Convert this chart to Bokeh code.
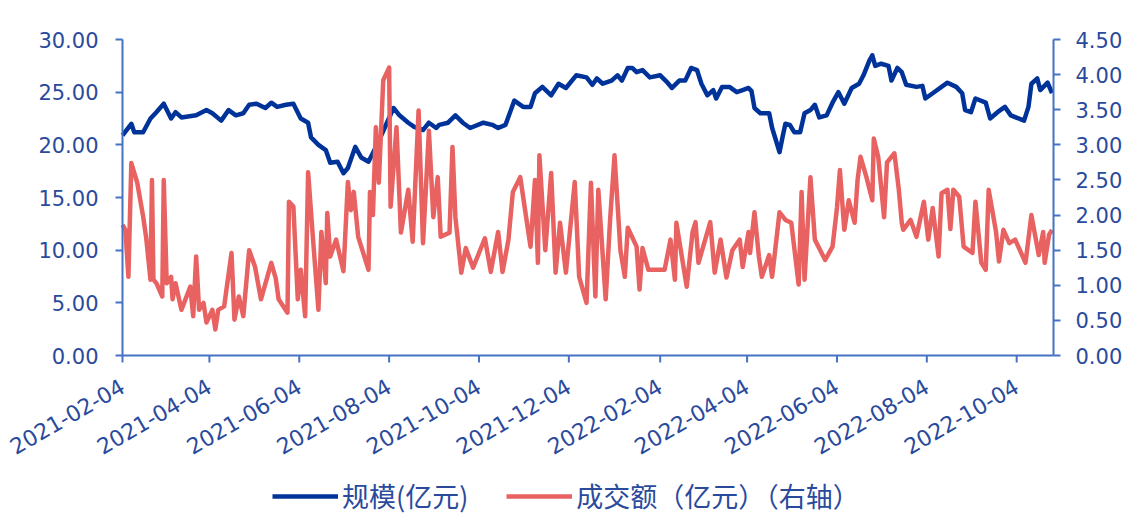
import pandas as pd
from bokeh.plotting import figure
from bokeh.models import (Range1d, LinearAxis, DatetimeTickFormatter, NumeralTickFormatter,
                          FixedTicker, Legend, LegendItem, ColumnDataSource)
from bokeh.embed import file_html
from bokeh.resources import INLINE

# ---------------- data ----------------
scale_dates = [
    "2021-02-04", "2021-02-10", "2021-02-12", "2021-02-18", "2021-02-23", "2021-02-27", "2021-03-04",
    "2021-03-09", "2021-03-12", "2021-03-16", "2021-03-26", "2021-04-02", "2021-04-06", "2021-04-12",
    "2021-04-17", "2021-04-22", "2021-04-27", "2021-05-01", "2021-05-06", "2021-05-12", "2021-05-16",
    "2021-05-20", "2021-05-26", "2021-05-31", "2021-06-05", "2021-06-10", "2021-06-12", "2021-06-17",
    "2021-06-22", "2021-06-25", "2021-06-30", "2021-07-04", "2021-07-07", "2021-07-12", "2021-07-16",
    "2021-07-21", "2021-07-25", "2021-07-30", "2021-08-07", "2021-08-11", "2021-08-17", "2021-08-21",
    "2021-08-27", "2021-08-31", "2021-09-05", "2021-09-07", "2021-09-13", "2021-09-18", "2021-09-23",
    "2021-09-28", "2021-10-07", "2021-10-13", "2021-10-17", "2021-10-22", "2021-10-28", "2021-11-03",
    "2021-11-08", "2021-11-11", "2021-11-16", "2021-11-22", "2021-11-27", "2021-12-02", "2021-12-09",
    "2021-12-16", "2021-12-20", "2021-12-23", "2021-12-27", "2022-01-02", "2022-01-06", "2022-01-09",
    "2022-01-13", "2022-01-16", "2022-01-19", "2022-01-23", "2022-01-28", "2022-02-04", "2022-02-09",
    "2022-02-12", "2022-02-17", "2022-02-21", "2022-02-25", "2022-03-01", "2022-03-04", "2022-03-08",
    "2022-03-12", "2022-03-14", "2022-03-18", "2022-03-23", "2022-03-28", "2022-04-01", "2022-04-05",
    "2022-04-07", "2022-04-09", "2022-04-13", "2022-04-19", "2022-04-21", "2022-04-23", "2022-04-26",
    "2022-04-28", "2022-04-30", "2022-05-03", "2022-05-06", "2022-05-10", "2022-05-13", "2022-05-17",
    "2022-05-20", "2022-05-23", "2022-05-28", "2022-06-01", "2022-06-05", "2022-06-09", "2022-06-14",
    "2022-06-19", "2022-06-22", "2022-06-26", "2022-06-28", "2022-06-30", "2022-07-04", "2022-07-09",
    "2022-07-11", "2022-07-15", "2022-07-18", "2022-07-21", "2022-07-28", "2022-08-01", "2022-08-03",
    "2022-08-08", "2022-08-18", "2022-08-24", "2022-08-28", "2022-08-30", "2022-09-03", "2022-09-06",
    "2022-09-13", "2022-09-16", "2022-09-21", "2022-09-26", "2022-09-30", "2022-10-09", "2022-10-12",
    "2022-10-14", "2022-10-18", "2022-10-20", "2022-10-25", "2022-10-28",
]
scale_values = [
    20.9, 22.0, 21.2, 21.2, 22.5, 23.1, 23.9,
    22.5, 23.1, 22.6, 22.8, 23.3, 23.0, 22.3,
    23.3, 22.8, 23.0, 23.8, 23.9, 23.5, 24.0,
    23.6, 23.8, 23.9, 22.5, 22.1, 20.7, 20.0,
    19.5, 18.3, 18.4, 17.3, 17.8, 19.8, 18.8,
    18.4, 19.5, 21.0, 23.5, 22.8, 22.1, 21.7,
    21.4, 22.1, 21.6, 21.9, 22.1, 22.8, 22.1,
    21.6, 22.1, 21.9, 21.6, 21.9, 24.2, 23.6,
    23.6, 24.9, 25.5, 24.7, 25.8, 25.4, 26.6,
    26.4, 25.7, 26.3, 25.8, 26.1, 26.6, 26.1,
    27.3, 27.3, 26.9, 27.1, 26.4, 26.6, 25.9,
    25.4, 26.1, 26.1, 27.3, 27.1, 25.8, 24.7,
    25.2, 24.4, 25.5, 25.5, 25.0, 25.2, 25.4,
    25.1, 23.5, 23.0, 23.0, 21.6, 20.7, 19.3,
    20.7, 22.0, 21.9, 21.2, 21.2, 23.0, 23.3,
    23.8, 22.6, 22.8, 24.0, 25.0, 23.9, 25.4,
    25.8, 26.6, 28.0, 28.5, 27.5, 27.7, 27.5,
    26.1, 27.3, 26.9, 25.7, 25.5, 25.6, 24.4,
    24.9, 25.9, 25.5, 24.9, 23.3, 23.1, 24.4,
    24.0, 22.5, 23.1, 23.6, 22.8, 22.3, 23.6,
    25.8, 26.3, 25.2, 25.9, 24.9,
]

turnover_dates = [
    "2021-02-04", "2021-02-06", "2021-02-08", "2021-02-10", "2021-02-14", "2021-02-18", "2021-02-20",
    "2021-02-23", "2021-02-24", "2021-02-25", "2021-02-27", "2021-03-03", "2021-03-04", "2021-03-06",
    "2021-03-09", "2021-03-10", "2021-03-12", "2021-03-16", "2021-03-22", "2021-03-24", "2021-03-26",
    "2021-03-28", "2021-03-31", "2021-04-02", "2021-04-06", "2021-04-08", "2021-04-10", "2021-04-14",
    "2021-04-19", "2021-04-21", "2021-04-24", "2021-04-27", "2021-05-01", "2021-05-05", "2021-05-09",
    "2021-05-16", "2021-05-19", "2021-05-21", "2021-05-27", "2021-05-28", "2021-05-31", "2021-06-03",
    "2021-06-05", "2021-06-08", "2021-06-10", "2021-06-13", "2021-06-17", "2021-06-19", "2021-06-22",
    "2021-06-23", "2021-06-25", "2021-06-29", "2021-07-04", "2021-07-07", "2021-07-09", "2021-07-11",
    "2021-07-14", "2021-07-21", "2021-07-22", "2021-07-24", "2021-07-26", "2021-07-28", "2021-07-31",
    "2021-08-04", "2021-08-05", "2021-08-09", "2021-08-12", "2021-08-17", "2021-08-20", "2021-08-24",
    "2021-08-27", "2021-08-31", "2021-09-03", "2021-09-06", "2021-09-08", "2021-09-14", "2021-09-16",
    "2021-09-18", "2021-09-22", "2021-09-25", "2021-09-30", "2021-10-08", "2021-10-12", "2021-10-17",
    "2021-10-20", "2021-10-24", "2021-10-27", "2021-11-01", "2021-11-05", "2021-11-08", "2021-11-11",
    "2021-11-13", "2021-11-14", "2021-11-18", "2021-11-22", "2021-11-25", "2021-11-28", "2021-12-02",
    "2021-12-08", "2021-12-11", "2021-12-16", "2021-12-19", "2021-12-22", "2021-12-24", "2021-12-29",
    "2022-01-01", "2022-01-04", "2022-01-08", "2022-01-11", "2022-01-13", "2022-01-19", "2022-01-21",
    "2022-01-23", "2022-01-27", "2022-02-07", "2022-02-11", "2022-02-14", "2022-02-15", "2022-02-22",
    "2022-02-26", "2022-02-28", "2022-03-02", "2022-03-10", "2022-03-13", "2022-03-17", "2022-03-21",
    "2022-03-25", "2022-03-30", "2022-04-01", "2022-04-05", "2022-04-06", "2022-04-09", "2022-04-12",
    "2022-04-14", "2022-04-19", "2022-04-21", "2022-04-26", "2022-04-30", "2022-05-04", "2022-05-09",
    "2022-05-11", "2022-05-13", "2022-05-17", "2022-05-20", "2022-05-27", "2022-06-01", "2022-06-04",
    "2022-06-06", "2022-06-09", "2022-06-12", "2022-06-16", "2022-06-18", "2022-06-20", "2022-06-24",
    "2022-06-28", "2022-06-29", "2022-07-02", "2022-07-06", "2022-07-08", "2022-07-13", "2022-07-16",
    "2022-07-18", "2022-07-19", "2022-07-24", "2022-07-28", "2022-08-02", "2022-08-05", "2022-08-08",
    "2022-08-12", "2022-08-14", "2022-08-18", "2022-08-20", "2022-08-22", "2022-08-26", "2022-08-29",
    "2022-09-04", "2022-09-06", "2022-09-10", "2022-09-13", "2022-09-15", "2022-09-20", "2022-09-22",
    "2022-09-25", "2022-09-29", "2022-10-03", "2022-10-10", "2022-10-14", "2022-10-19", "2022-10-22",
    "2022-10-23", "2022-10-26", "2022-10-28",
]
turnover_values = [
    1.86, 1.79, 1.12, 2.74, 2.46, 1.98, 1.69,
    1.08, 2.50, 1.08, 1.03, 0.84, 2.50, 1.03,
    1.12, 0.80, 1.03, 0.65, 0.98, 0.56, 1.41,
    0.65, 0.75, 0.47, 0.65, 0.37, 0.65, 0.70,
    1.46, 0.51, 0.84, 0.56, 1.50, 1.26, 0.80,
    1.32, 1.10, 0.80, 0.61, 2.19, 2.12, 0.80,
    1.22, 0.56, 2.61, 1.75, 0.65, 1.76, 1.03,
    2.03, 1.41, 1.65, 1.20, 2.47, 2.07, 2.33,
    1.69, 1.22, 2.33, 2.00, 3.25, 2.46, 3.92,
    4.10, 2.12, 3.25, 1.75, 2.36, 1.62, 3.49,
    1.60, 3.20, 1.97, 2.54, 1.69, 1.75, 2.97,
    1.97, 1.18, 1.53, 1.25, 1.67, 1.19, 1.76,
    1.19, 1.65, 2.33, 2.54, 1.97, 1.55, 2.50,
    1.32, 2.85, 1.50, 2.60, 1.18, 1.89, 1.18,
    2.47, 1.12, 0.75, 2.46, 0.84, 2.36, 0.80,
    1.93, 2.85, 1.50, 1.12, 1.82, 1.55, 0.94,
    1.53, 1.22, 1.22, 1.65, 1.08, 1.89, 0.98,
    1.76, 1.90, 1.32, 1.90, 1.18, 1.65, 1.11,
    1.50, 1.65, 1.26, 1.76, 1.46, 2.04, 1.41,
    1.12, 1.43, 1.12, 2.04, 1.93, 1.89, 1.01,
    2.33, 1.08, 2.54, 1.65, 1.36, 1.55, 2.10,
    2.64, 1.79, 2.21, 1.89, 2.50, 2.83, 2.54,
    2.21, 3.09, 2.83, 1.97, 2.75, 2.88, 2.36,
    1.89, 1.79, 1.93, 1.69, 2.19, 1.65, 2.10,
    1.41, 2.31, 2.36, 1.80, 2.36, 2.26, 1.55,
    1.46, 2.19, 1.32, 1.22, 2.36, 1.76, 1.34,
    1.79, 1.60, 1.65, 1.32, 2.00, 1.43, 1.76,
    1.32, 1.72, 1.79,
]

x_start, x_end = "2021-02-04", "2022-10-29"
x_tick_labels = ["2021-02-04", "2021-04-04", "2021-06-04", "2021-08-04", "2021-10-04", "2021-12-04",
                 "2022-02-04", "2022-04-04", "2022-06-04", "2022-08-04", "2022-10-04"]
left_ticks = [0, 5, 10, 15, 20, 25, 30]
right_ticks = [0, 0.5, 1.0, 1.5, 2.0, 2.5, 3.0, 3.5, 4.0, 4.5]
left_max, right_max = 30, 4.5

series_names = ["规模(亿元)", "成交额（亿元）（右轴）"]

# ---------------- layout (pixels) / styling ----------------
W, H = 1124, 523
PAD_L, PAD_R, PAD_T, PAD_B = 122, 71, 39, 168   # room around the value area
TICK = 7
BLUE = "#00339A"
RED = "#E86262"
AXIS = "#4472C4"
TEXT = "#2A4A9C"
FONT = "DejaVu Sans"
CJK = "Noto Sans CJK SC"

t0 = pd.Timestamp(x_start).value / 1e6
t1 = pd.Timestamp(x_end).value / 1e6
inner_w = W - PAD_L - PAD_R
inner_h = H - PAD_T - PAD_B
ms_per_px = (t1 - t0) / inner_w
lpp = left_max / inner_h
rpp = right_max / inner_h

src_a = ColumnDataSource(dict(x=pd.to_datetime(scale_dates), y=scale_values))
src_b = ColumnDataSource(dict(x=pd.to_datetime(turnover_dates), y=turnover_values))

p = figure(frame_width=W, frame_height=H, x_axis_type="datetime",
           output_backend="svg", toolbar_location=None,
           x_range=Range1d(t0 - PAD_L * ms_per_px, t1 + PAD_R * ms_per_px),
           y_range=Range1d(-PAD_B * lpp, left_max + PAD_T * lpp),
           min_border_left=0, min_border_right=0, min_border_top=0, min_border_bottom=0)
p.extra_y_ranges = {"right": Range1d(-PAD_B * rpp, right_max + PAD_T * rpp)}
p.outline_line_color = None
p.xgrid.visible = False
p.ygrid.visible = False
p.background_fill_alpha = 0
p.border_fill_color = "white"

# date axis baseline and its tick marks (guides), drawn on top of everything
tick_ms = [pd.Timestamp(t).value / 1e6 for t in x_tick_labels]
p.segment(x0=[t0], y0=[0], x1=[t1], y1=[0], line_color=AXIS, line_width=2, level="overlay")
p.segment(x0=tick_ms, y0=[0] * len(tick_ms), x1=tick_ms, y1=[-TICK * lpp] * len(tick_ms),
          line_color=AXIS, line_width=2, level="overlay")

r1 = p.line("x", "y", source=src_a, line_color=BLUE, line_width=4.5, line_join="round")
r2 = p.line("x", "y", source=src_b, line_color=RED, line_width=4.5, line_join="round",
            y_range_name="right")

right_axis = LinearAxis(y_range_name="right")
p.add_layout(right_axis, "right")


def style_axis(ax, size="21px"):
    ax.axis_line_color = AXIS
    ax.axis_line_width = 2
    ax.major_tick_line_color = AXIS
    ax.major_tick_line_width = 2
    ax.major_tick_out = TICK
    ax.major_tick_in = 0
    ax.minor_tick_out = 0
    ax.minor_tick_in = 0
    ax.major_label_text_color = TEXT
    ax.major_label_text_font = FONT
    ax.major_label_text_font_size = size


ya = p.yaxis[0]
style_axis(ya)
style_axis(right_axis)
xa = p.xaxis[0]
style_axis(xa, "22px")

ya.ticker = FixedTicker(ticks=left_ticks)
ya.formatter = NumeralTickFormatter(format="0.00")
ya.major_label_standoff = 17
ya.bounds = (0, left_max)
ya.fixed_location = t0

right_axis.ticker = FixedTicker(ticks=right_ticks)
right_axis.formatter = NumeralTickFormatter(format="0.00")
right_axis.major_label_standoff = 15
right_axis.bounds = (0, right_max)
right_axis.fixed_location = t1

xa.ticker = FixedTicker(ticks=tick_ms)
fmt = "%Y-%m-%d"
xa.formatter = DatetimeTickFormatter(milliseconds=fmt, seconds=fmt, minsec=fmt, minutes=fmt,
                                     hourmin=fmt, hours=fmt, days=fmt, months=fmt, years=fmt)
xa.major_label_orientation = 0.5236
xa.major_label_standoff = 22
xa.bounds = (t0, t1)
xa.fixed_location = 0
xa.axis_line_color = None
xa.major_tick_line_color = None

legend = Legend(items=[LegendItem(label=series_names[0], renderers=[r1]),
                       LegendItem(label=series_names[1], renderers=[r2])],
                orientation="horizontal", location=(PAD_L + 150, 8),
                label_text_font=CJK, label_text_font_size="27px", label_text_color=TEXT,
                glyph_width=66, glyph_height=24, label_standoff=4, spacing=38,
                border_line_color=None, background_fill_alpha=0, padding=0, margin=0)
p.add_layout(legend, "center")

open("out.html", "w").write(file_html(p, INLINE))
